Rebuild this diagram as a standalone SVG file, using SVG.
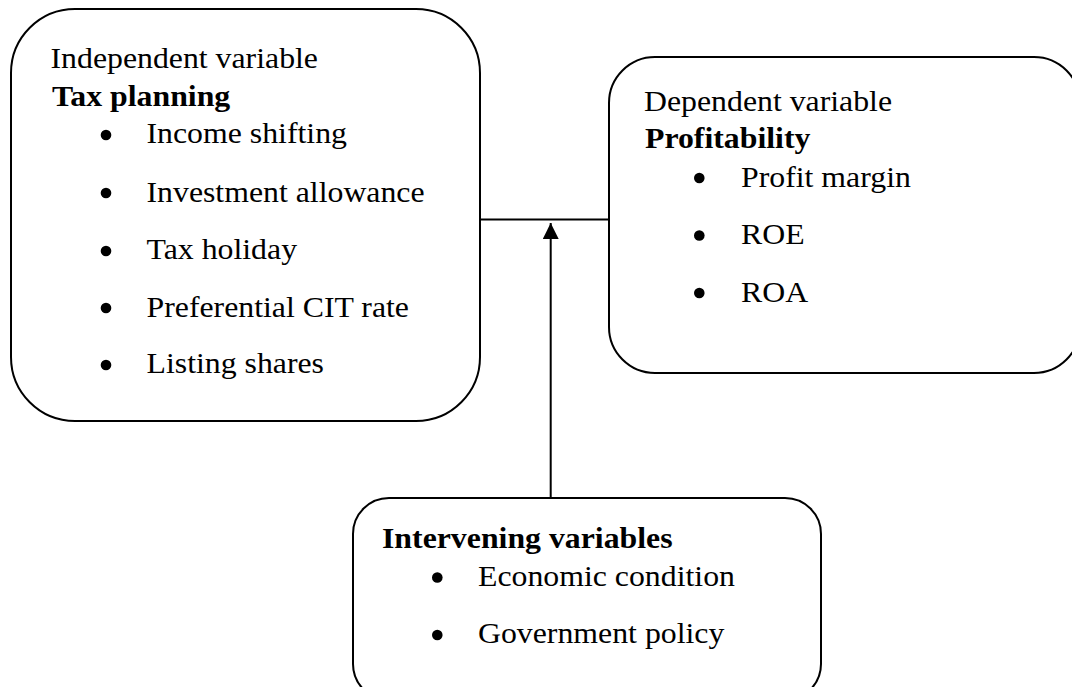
<svg xmlns="http://www.w3.org/2000/svg" width="1072" height="687" viewBox="0 0 1072 687">
<style>
.box{fill:#ffffff;stroke:#000000;stroke-width:2}
.t{font-family:"Liberation Serif","Times New Roman",serif;font-size:29px;fill:#000000}
.b{font-weight:bold}
.dot{fill:#000000}
.ln{stroke:#000000;stroke-width:2;fill:none}
</style>
<defs>
<marker id="arr" viewBox="0 0 10 10" refX="10" refY="5" markerWidth="16" markerHeight="16" markerUnits="userSpaceOnUse" orient="auto">
<path d="M0,0 L10,5 L0,10 Z" fill="#000000"/>
</marker>
</defs>
<rect width="1072" height="687" fill="#ffffff"/>
<g id="connectors">
<line class="ln" x1="480" y1="219.5" x2="609" y2="219.5"/>
<line class="ln" x1="550.7" y1="498" x2="550.7" y2="223" marker-end="url(#arr)"/>
</g>
<g id="independent">
<rect class="box" x="11" y="9" width="469" height="412" rx="64" ry="64"/>
<text class="t" transform="translate(50.5,67.7) scale(1.097,1)">Independent variable</text>
<text class="t b" transform="translate(52,106) scale(1.097,1)">Tax planning</text>
<circle class="dot" cx="106" cy="135" r="5.3"/>
<text class="t" transform="translate(146.5,143.3) scale(1.097,1)">Income shifting</text>
<circle class="dot" cx="106" cy="193" r="5.3"/>
<text class="t" transform="translate(146.5,201.5) scale(1.097,1)">Investment allowance</text>
<circle class="dot" cx="106" cy="251" r="5.3"/>
<text class="t" transform="translate(146.5,259.3) scale(1.097,1)">Tax holiday</text>
<circle class="dot" cx="106" cy="308" r="5.3"/>
<text class="t" transform="translate(146.5,316.7) scale(1.097,1)">Preferential CIT rate</text>
<circle class="dot" cx="106" cy="365" r="5.3"/>
<text class="t" transform="translate(146.5,373.3) scale(1.097,1)">Listing shares</text>
</g>
<g id="dependent">
<rect class="box" x="609" y="57" width="471" height="316" rx="46" ry="46"/>
<text class="t" transform="translate(644,111) scale(1.097,1)">Dependent variable</text>
<text class="t b" transform="translate(645,148.3) scale(1.097,1)">Profitability</text>
<circle class="dot" cx="699.3" cy="178" r="5.3"/>
<text class="t" transform="translate(741,186.7) scale(1.097,1)">Profit margin</text>
<circle class="dot" cx="699.3" cy="235.5" r="5.3"/>
<text class="t" transform="translate(741,244) scale(1.097,1)">ROE</text>
<circle class="dot" cx="699.3" cy="293" r="5.3"/>
<text class="t" transform="translate(741,301.7) scale(1.097,1)">ROA</text>
</g>
<g id="intervening">
<rect class="box" x="353" y="498" width="468" height="202" rx="36" ry="36"/>
<text class="t b" transform="translate(382,547.7) scale(1.097,1)">Intervening variables</text>
<circle class="dot" cx="437.3" cy="577.5" r="5.3"/>
<text class="t" transform="translate(478,586) scale(1.097,1)">Economic condition</text>
<circle class="dot" cx="437.3" cy="635" r="5.3"/>
<text class="t" transform="translate(478,643.3) scale(1.097,1)">Government policy</text>
</g>
</svg>
